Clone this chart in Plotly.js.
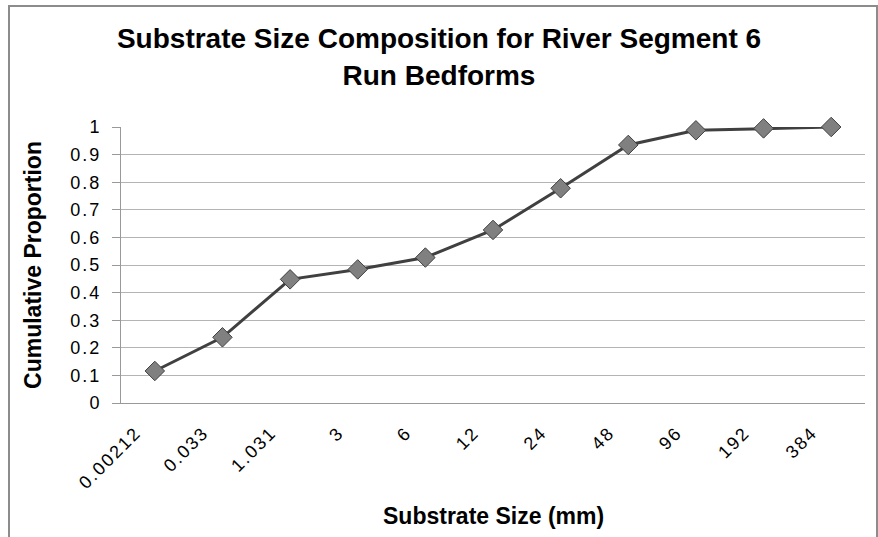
<!DOCTYPE html>
<html><head><meta charset="utf-8">
<script src="https://cdn.plot.ly/plotly-3.0.1.min.js"></script>
<style>html,body{margin:0;padding:0;background:#fff;overflow:hidden}
#frame{position:absolute;left:8px;top:5px;width:866px;height:600px;border:2px solid #8c8c8c;pointer-events:none}
#chart{width:878px;height:537px}
.xtick text,.ytick text{letter-spacing:2px}</style>
</head><body>
<div id="chart"></div><div id="frame"></div>
<script>
const sizes = ['0.00212','0.033','1.031','3','6','12','24','48','96','192','384'];
const cumulative = [0.116,0.238,0.448,0.484,0.527,0.627,0.778,0.935,0.988,0.995,1.0];
const xTitle = 'Substrate Size (mm)';

Plotly.newPlot('chart', [{
  x: sizes, y: cumulative, type: 'scatter', mode: 'lines+markers', cliponaxis: false,
  line: {color: '#404040', width: 3},
  marker: {symbol: 'diamond', size: 15, color: '#808080', line: {color: '#404040', width: 1}}
}], {
  width: 878, height: 537,
  margin: {l: 121, r: 13, t: 127, b: 134},
  paper_bgcolor: '#fff', plot_bgcolor: '#fff',
  showlegend: false,
  font: {family: 'Liberation Sans, Arial, sans-serif', color: '#000'},
  title: {text: '<b>Substrate Size Composition for River Segment 6<br>Run Bedforms</b>',
          font: {size: 28, color: '#000'}, x: 0.5, xanchor: 'center', y: 0.91, yanchor: 'top'},
  xaxis: {type: 'category', range: [-0.5, 10.5], tickangle: -45, tickfont: {size: 18},
          showline: true, linecolor: '#999', linewidth: 1, showgrid: false,
          ticks: '', automargin: false, ticklabelstandoff: 11, ticklabelshift: -19},
  yaxis: {range: [0, 1], dtick: 0.1, tickfont: {size: 18},
          showline: true, linecolor: '#999', linewidth: 1,
          showgrid: true, gridcolor: '#b4b4b4', gridwidth: 1,
          ticks: 'outside', ticklen: 8, tickcolor: '#999', zeroline: false, automargin: false,
          ticklabelstandoff: 7,
          title: {text: '<b>Cumulative Proportion</b>', font: {size: 23}, standoff: 22}},
  annotations: [{text: '<b>' + xTitle + '</b>', xref: 'paper', yref: 'paper', x: 0.5, y: -0.409,
                 xanchor: 'center', yanchor: 'middle', showarrow: false, font: {size: 23, color: '#000'}}]
}, {displayModeBar: false, staticPlot: true});
</script>
</body></html>
